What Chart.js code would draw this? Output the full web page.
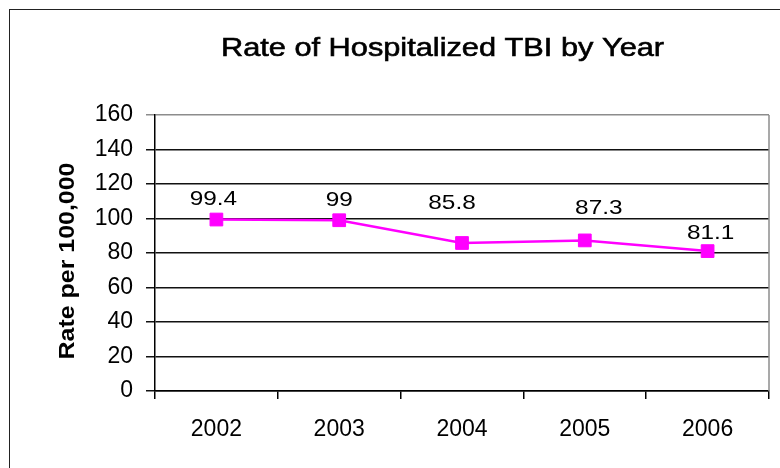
<!DOCTYPE html>
<html>
<head>
<meta charset="utf-8">
<script src="https://cdn.jsdelivr.net/npm/chart.js@4/dist/chart.umd.min.js"></script>
<style>
  html, body { margin: 0; padding: 0; background: #fff; }
  #wrap { position: relative; width: 780px; height: 468px; overflow: hidden; }
  #frame { position: absolute; left: 9px; top: 9px; width: 800px; height: 500px; border: 1.5px solid #222; box-sizing: border-box; }
  canvas { position: absolute; left: 0; top: 0; }
</style>
</head>
<body>
<div id="wrap">
  <div id="frame"></div>
  <canvas id="c" width="780" height="468"></canvas>
</div>
<script>
const chartTitle = 'Rate of Hospitalized TBI by Year';
const yAxisTitle = 'Rate per 100,000';
const years = ['2002', '2003', '2004', '2005', '2006'];
const rates = [99.4, 99, 85.8, 87.3, 81.1];
const yTicks = [0, 20, 40, 60, 80, 100, 120, 140, 160];

const FONT = '"Liberation Sans", Arial, sans-serif';
const STRETCH = 1.16;

const labelShift = [[-3, -22], [0, -22], [-10, -41], [14, -34], [3, -20]];

function wideText(ctx, text, x, y, rot, bolden) {
  ctx.save();
  ctx.translate(x, y);
  if (rot) ctx.rotate(rot);
  ctx.scale(STRETCH, 1);
  ctx.fillText(text, 0, 0);
  if (bolden) {
    ctx.lineWidth = bolden;
    ctx.strokeStyle = ctx.fillStyle;
    ctx.strokeText(text, 0, 0);
  }
  ctx.restore();
}

const decor = {
  id: 'decor',
  afterDraw(chart) {
    const ctx = chart.ctx;
    const a = chart.chartArea;
    ctx.save();
    // right border of plot area
    ctx.strokeStyle = '#8c8c8c';
    ctx.lineWidth = 1.5;
    ctx.beginPath();
    ctx.moveTo(a.right, a.top);
    ctx.lineTo(a.right, a.bottom);
    ctx.stroke();
    ctx.fillStyle = '#000';
    ctx.textAlign = 'center';
    ctx.textBaseline = 'alphabetic';
    // title
    ctx.font = '26.5px ' + FONT;
    wideText(ctx, chartTitle, 442.5, 56, 0, 0.6);
    // y axis title
    ctx.font = 'bold 21.5px ' + FONT;
    wideText(ctx, yAxisTitle, 74, 261, -Math.PI / 2);
    // data labels
    const meta = chart.getDatasetMeta(0);
    ctx.font = '21px ' + FONT;
    meta.data.forEach((pt, i) => {
      const s = labelShift[i] || [0, -24];
      wideText(ctx, String(rates[i]), pt.x + s[0], pt.y + s[1] + 7.5);
    });
    ctx.restore();
  }
};

new Chart(document.getElementById('c'), {
  type: 'line',
  data: {
    labels: years,
    datasets: [{
      data: rates,
      borderColor: '#ff00ff',
      backgroundColor: '#ff00ff',
      borderWidth: 2.5,
      pointStyle: 'rect',
      pointRadius: 9,
      pointBorderWidth: 1,
      pointBorderColor: '#ff00ff',
      pointBackgroundColor: '#ff00ff',
      tension: 0
    }]
  },
  options: {
    responsive: false,
    animation: false,
    devicePixelRatio: 1,
    layout: { padding: { top: 115, right: 11, bottom: 0, left: 0 } },
    plugins: { legend: { display: false }, tooltip: { enabled: false }, title: { display: false } },
    scales: {
      x: {
        offset: true,
        afterFit(s) { s.height = 77; },
        grid: { offset: true, drawOnChartArea: false, tickLength: 8, color: '#000', lineWidth: 1.5 },
        border: { color: '#000', width: 1.5 },
        ticks: { color: '#000', font: { family: FONT, size: 23 }, padding: 17, maxRotation: 0 }
      },
      y: {
        min: 0,
        max: 160,
        afterFit(s) { s.width = 155; },
        afterBuildTicks(s) { s.ticks = yTicks.map(v => ({ value: v })); },
        grid: {
          tickLength: 9,
          color: (c) => (c.tick && c.tick.value === 160 ? '#8c8c8c' : '#111'),
          lineWidth: 1.5
        },
        border: { color: '#000', width: 1.5 },
        ticks: { color: '#000', font: { family: FONT, size: 23 }, padding: 13 },
        title: { display: false }
      }
    }
  },
  plugins: [decor]
});
</script>
</body>
</html>
